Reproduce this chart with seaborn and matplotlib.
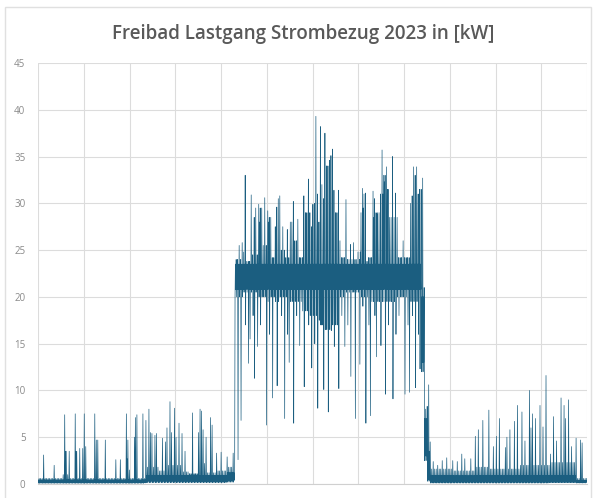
import numpy as np
import matplotlib
matplotlib.use("Agg")
import matplotlib.pyplot as plt
import seaborn as sns
import pandas as pd
from matplotlib.patches import Rectangle

# ---------------- data (day of year 2023) ----------------
title = "Freibad Lastgang Strombezug 2023 in [kW]"
y_ticks = [0, 5, 10, 15, 20, 25, 30, 35, 40, 45]

# dense core band of the load: segment start day, core low, core high (kW)
core_start = [0, 72, 126, 131, 255, 257, 259, 261, 358]
core_lo = [0.12, 0.3, 0.4, 20.8, 13.0, 3.0, 0.5, 0.2, 0.15]
core_hi = [0.45, 0.9, 1.2, 23.5, 20.0, 7.0, 3.5, 0.9, 0.4]

# outer envelope of the load (upper / lower), segment start day
env_start = [0, 16, 20, 24, 26, 29, 32, 37, 40, 58, 61, 64, 66, 71, 80, 85, 96, 100,
             106, 112, 118, 126,
             131, 135, 137, 142, 146, 147.5, 149, 152, 155, 158, 159.5, 161, 164, 167, 170,
             173, 176, 178, 181, 183, 186, 188, 190, 191, 193, 195, 200, 205, 214, 216, 218,
             219, 222, 224, 227, 229, 231, 233, 239, 247, 249, 251, 253,
             255, 257, 259, 261, 275, 290, 300, 320, 340, 358]
env_up = [0.6, 1.0, 0.6, 1.2, 0.6, 1.2, 0.6, 1.2, 0.6, 1.5, 0.6, 1.5, 0.6, 1.8, 1.4, 2.0,
          1.3, 1.1, 2.2, 1.2, 1.4, 1.8,
          24.0, 24.8, 23.8, 24.5, 27.5, 29.5, 25.5, 28.5, 24.2, 28.0, 30.5, 25.0, 24.2, 28.0,
          26.0, 24.2, 27.0, 29.0, 27.5, 29.0, 28.0, 30.5, 32.0, 34.0, 31.0, 29.0, 24.2, 24.0,
          29.0, 31.0, 23.8, 24.2, 30.5, 29.0, 31.0, 33.0, 31.5, 28.5, 24.2, 30.0, 33.0, 29.5,
          31.5,
          21.0, 8.0, 4.5, 1.6, 1.4, 1.8, 1.6, 2.0, 2.3, 0.6]
env_low = [0.08, 0.08, 0.08, 0.08, 0.08, 0.08, 0.08, 0.08, 0.08, 0.08, 0.08, 0.08, 0.08,
           0.15, 0.15, 0.15, 0.15, 0.15, 0.15, 0.15, 0.15, 0.2,
           20.0, 20.0, 20.5, 20.5, 20.0, 20.0, 20.0, 19.5, 20.0, 19.5, 19.5, 20.0, 20.0, 19.5,
           19.5, 19.5, 18.5, 18.5, 18.0, 18.0, 17.5, 17.0, 17.0, 16.5, 16.5, 17.0, 20.0, 20.5,
           20.0, 20.0, 20.5, 20.0, 19.5, 19.5, 19.5, 19.5, 19.5, 19.5, 20.0, 19.5, 19.5, 19.5,
           19.5,
           12.0, 2.5, 0.3, 0.1, 0.1, 0.1, 0.1, 0.1, 0.15, 0.1]

# upward peaks: day, kW
peak_day = [3.5, 10.6, 17.1, 18.0, 18.6, 20.1, 24.1, 25.0, 25.3, 27.7, 29.5, 30.4, 31.2,
            37.4, 38.5, 39.0, 44.1, 51.2, 54.7, 58.3, 59.0, 59.5, 64.0, 64.6, 65.2, 69.0, 71.1,
            73.8, 74.5, 75.5, 77.0, 78.5, 82.2, 84.0, 85.6, 87.8, 88.5, 90.4, 91.0, 93.3, 95.5,
            97.0, 102.8, 106.0, 107.7, 108.7, 109.5, 111.0, 114.3, 115.5, 118.8, 121.5, 125.6,
            129.4, 131.0,
            133.0, 135.0, 137.0, 141.6, 143.5, 144.5, 146.5, 147.5, 150.9, 152.9, 153.5, 157.0,
            158.7, 160.9, 162.5, 165.3, 169.7, 172.0, 176.4, 177.5, 179.7, 182.2, 183.0, 184.6,
            185.5, 187.0, 188.0, 190.3, 190.8, 193.0, 194.1, 195.2, 196.1, 199.4, 200.8, 204.1,
            207.4, 209.4, 212.1, 214.1, 215.9, 216.5, 217.9, 222.9, 223.5, 225.2, 228.9, 229.5,
            230.7, 231.8, 232.5, 235.1, 237.3, 242.6, 245.3, 248.0, 249.5, 251.8, 252.5, 255.1,
            258.4, 259.5,
            262.8, 265.3, 268.4, 271.7, 275.0, 278.4, 281.7, 283.9, 287.2, 290.5, 292.0, 292.7,
            295.6, 299.4, 302.3, 304.5, 306.7, 310.5, 311.6, 313.3, 316.0, 316.6, 318.9, 321.6,
            323.8, 326.4, 327.5, 328.4, 330.4, 333.3, 335.5, 337.2, 337.7, 340.4, 342.2, 344.4,
            347.0, 349.7, 350.5, 352.1, 354.8, 357.6, 360.3, 361.2, 361.7]
peak_kw = [3.1, 2.0, 7.4, 3.5, 3.5, 3.5, 7.5, 3.5, 3.5, 3.8, 3.8, 7.5, 4.0,
           7.5, 4.7, 4.7, 4.7, 2.6, 2.6, 7.5, 4.7, 2.7, 7.1, 5.0, 7.4, 7.5, 6.8,
           8.0, 5.5, 5.4, 5.2, 5.4, 4.9, 4.5, 6.0, 8.8, 5.5, 8.1, 5.0, 6.5, 5.4,
           3.5, 7.6, 5.5, 8.0, 7.8, 5.8, 5.0, 7.1, 6.3, 3.3, 3.4, 2.9,
           3.3, 7.6,
           25.5, 25.8, 33.0, 30.9, 28.5, 29.5, 29.9, 28.0, 30.6, 29.2, 28.0, 27.5,
           29.6, 30.8, 27.5, 27.2, 30.2, 28.3, 30.8, 29.0, 32.6, 29.9, 30.0, 39.3,
           31.0, 38.2, 32.0, 37.3, 37.5, 34.6, 35.1, 35.8, 31.4, 31.4, 26.0, 30.4,
           25.6, 25.8, 24.8, 24.8, 31.6, 29.5, 31.1, 31.3, 28.5, 28.9, 35.7, 31.0,
           32.3, 33.9, 31.5, 35.0, 31.1, 26.0, 24.0, 30.8, 33.9, 33.9, 31.0, 32.7,
           8.3, 10.6,
           2.4, 2.0, 2.5, 2.8, 2.5, 2.4, 3.2, 2.7, 2.7, 5.1, 5.0, 5.8,
           6.8, 7.9, 4.0, 5.1, 7.0, 3.9, 5.0, 5.8, 5.5, 6.7, 8.4, 7.7,
           4.6, 10.0, 6.0, 7.5, 7.0, 8.4, 6.1, 9.5, 11.6, 3.2, 7.2, 4.6,
           9.2, 8.4, 7.0, 9.0, 4.0, 4.9, 4.7, 4.0, 4.4]

# downward dips during the open-air season: day, kW
dip_day = [133.6, 135.4, 138.0, 140.3, 141.6, 143.0, 144.7, 146.5, 148.5, 152.0, 154.0,
           156.4, 159.5, 162.0, 164.2, 166.0, 167.5, 170.9, 172.5, 174.2, 177.5, 180.0,
           182.0, 184.0, 186.0, 188.0, 190.3, 193.0, 195.5, 197.4, 200.8, 202.5, 204.1,
           206.0, 208.5, 211.2, 214.7, 216.5, 218.5, 220.0, 221.8, 224.0, 225.2, 228.0,
           231.8, 233.5, 236.2, 238.6, 240.0, 244.0, 246.0, 247.3, 249.5, 251.8, 253.0, 254.0]
dip_kw = [2.6, 6.8, 17.0, 12.9, 15.5, 18.0, 11.3, 14.7, 17.0, 6.3, 16.0,
          9.2, 10.5, 18.0, 7.0, 16.0, 13.0, 6.5, 18.0, 14.8, 10.4, 17.0,
          12.4, 15.0, 8.1, 17.0, 10.1, 7.7, 16.4, 14.7, 10.2, 18.0, 14.7,
          17.0, 11.5, 7.0, 12.8, 19.0, 6.5, 17.0, 7.3, 18.0, 13.6, 14.8,
          9.6, 17.0, 9.1, 16.0, 18.0, 9.6, 17.0, 9.8, 18.0, 10.3, 16.0, 12.3]

# ---------------- quarter-day samples assembled from the values above ----------------
SUB = 4
n = 365 * SUB
t = np.arange(n) / SUB
ci = np.searchsorted(core_start, t, side="right") - 1
ei = np.searchsorted(env_start, t, side="right") - 1
slot = np.arange(n) % SUB
kw = np.select(
    [slot == 0, slot == 1, slot == 2],
    [np.array(env_low)[ei], np.array(core_hi)[ci], np.array(core_lo)[ci]],
    default=np.array(env_up)[ei],
)
for d, val in zip(peak_day, peak_kw):
    i = min(int(d) * SUB + 3, n - 1)
    if kw[i] >= val:
        i = int(d) * SUB + 1
    kw[i] = max(kw[i], val)
for d, val in zip(dip_day, dip_kw):
    i = int(d) * SUB
    if kw[i] <= val:
        i = int(d) * SUB + 2
    kw[i] = min(kw[i], val)
df = pd.DataFrame({"Tag": t, "kW": kw})

# ---------------- plot ----------------
sns.set_theme(style="white")
plt.rcParams["font.family"] = ["Open Sans", "DejaVu Sans"]

fig = plt.figure(figsize=(5.94, 4.98), dpi=100)
ax = fig.add_axes([38 / 594, 1 - 484 / 498, (587 - 38) / 594, (484 - 63) / 498])

sns.lineplot(data=df, x="Tag", y="kW", ax=ax, color="#1b5e80", linewidth=0.5,
             estimator=None, sort=False)

ax.set_xlim(0, 365)
ax.set_ylim(0, 45)
ax.set_yticks(y_ticks)
ax.set_yticklabels([str(v) for v in y_ticks])
ax.set_xticks(np.linspace(0, 365, 13))
ax.set_xticklabels([])
ax.grid(True, color="#dcdcdc", linewidth=0.8)
ax.set_axisbelow(True)
ax.tick_params(axis="y", length=0, pad=9, labelsize=7, labelcolor="#8a8a8a")
ax.tick_params(axis="x", length=0)
ax.set_xlabel("")
ax.set_ylabel("")
for s in ["top", "right", "left"]:
    ax.spines[s].set_visible(False)
ax.spines["bottom"].set_color("#d0d0d0")
ax.spines["bottom"].set_linewidth(0.8)

fig.text(0.51, 1 - 34 / 498, title, ha="center", va="center", fontsize=13.5,
         fontweight="semibold", color="#595959")

fig.patches.append(Rectangle((5 / 594, -0.01), 586 / 594, 1 - 7 / 498 + 0.01,
                             transform=fig.transFigure, fill=False,
                             edgecolor="#e0e0e0", linewidth=1.0))

fig.savefig("out.png", dpi=100)
